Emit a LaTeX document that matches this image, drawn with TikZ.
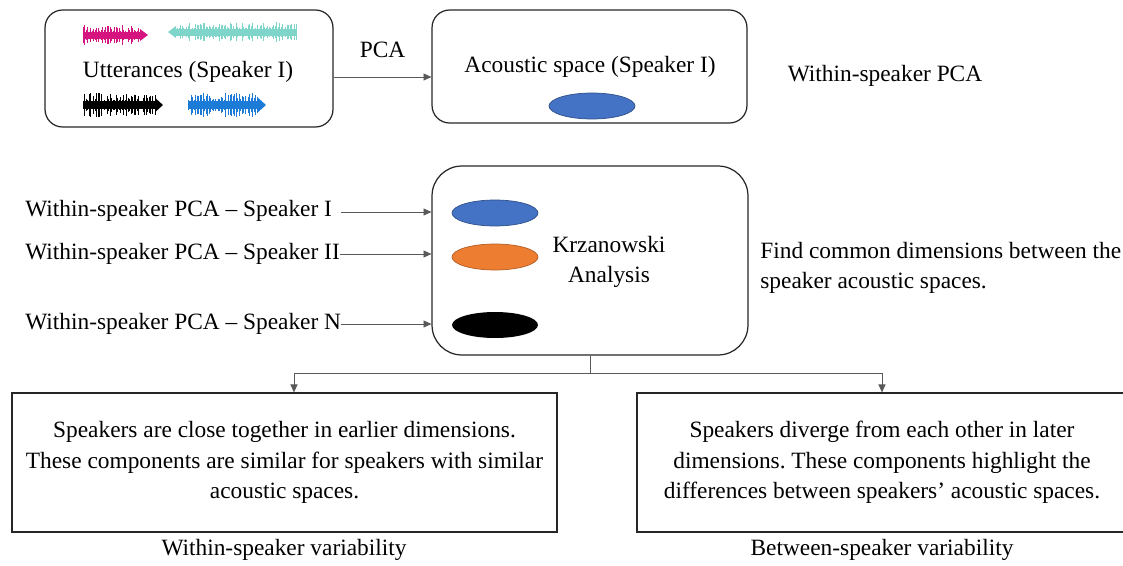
\documentclass[tikz,border=0pt]{standalone}
\usepackage{fontspec}
\setmainfont{Liberation Serif}
\usetikzlibrary{arrows.meta,shapes.geometric}
\frenchspacing
\definecolor{wavepink}{HTML}{D5147F}
\definecolor{waveteal}{HTML}{80D5CB}
\definecolor{waveblue}{HTML}{1B7BD6}
\definecolor{ellblue}{HTML}{4472C4}
\definecolor{ellorange}{HTML}{ED7D31}
% one sound wave: start x, centre y, body length, amplitude, colour, tip side (1 right, -1 left)
\newcommand{\soundwave}[6]{%
  \foreach \k in {0,1.5,...,#3} {
    \pgfmathsetmacro\amp{#4*(0.3+0.7*rnd)}
    \draw[#5, line width=0.55pt] (#1+\k,#2-\amp) -- (#1+\k,#2+\amp);
  }
  \fill[#5] (#1,#2-0.35*#4) rectangle (#1+#3,#2+0.35*#4);
  \ifnum#6=1
    \fill[#5] (#1+#3,#2-0.6*#4) -- (#1+#3+8,#2) -- (#1+#3,#2+0.6*#4) -- cycle;
  \else
    \fill[#5] (#1,#2-0.6*#4) -- (#1-8,#2) -- (#1,#2+0.6*#4) -- cycle;
  \fi}
\tikzset{
  txt/.style={font=\fontsize{13.3}{16.8}\selectfont, inner sep=0pt},
  panel/.style={draw=black!85, line width=0.7pt, rounded corners=10pt, fill=white},
  bigpanel/.style={panel, rounded corners=17pt},
  result/.style={draw=black!85, line width=0.7pt, fill=white, inner sep=0pt, align=center,
    font=\fontsize{13.3}{17.3}\selectfont},
  blob/.style={ellipse, minimum width=1.72cm, minimum height=0.52cm, inner sep=0pt},
  link/.style={draw=black!65, line width=0.5pt},
  arr/.style={link, -{Triangle[length=4.5pt,width=4pt]}},
}
\begin{document}
\begin{tikzpicture}[x=0.02cm, y=-0.02cm]
  \useasboundingbox (0,0) rectangle (1123,565);
  \clip (0,0) rectangle (1123,565);
  \pgfmathsetseed{11}

  % top row
  \node[panel, minimum width=5.76cm, minimum height=2.34cm] (utter) at (189,68.5) {};
  \soundwave{83}{35}{57}{10}{wavepink}{1}
  \soundwave{176}{32}{120}{10}{waveteal}{-1}
  \soundwave{83}{105}{72}{12}{black}{1}
  \soundwave{188}{105}{70}{12}{waveblue}{1}
  \node[txt] (uttertext) at (188,72) {Utterances (Speaker I)};

  \node[panel, minimum width=6.3cm, minimum height=2.26cm] (acoustic) at (589.5,66.5) {};
  \node[txt] (acoustictext) at (590,67) {Acoustic space (Speaker I)};
  \node[blob, fill=ellblue, draw=ellblue!70!black] (acblob) at (592,106) {};
  \draw[arr] ([yshift=-0.17cm]utter.east) -- ([yshift=-0.17cm]utter.east -| acoustic.west)
    node[txt, pos=0.5, yshift=0.54cm] (pcalabel) {PCA};
  \node[txt] (withinpca) at (885,76) {Within-speaker PCA};

  % middle row
  \node[bigpanel, minimum width=6.32cm, minimum height=3.78cm] (krz) at (590,260.5) {};
  \node[blob, fill=ellblue, draw=ellblue!70!black] (blobI) at (495,213) {};
  \node[blob, fill=ellorange, draw=ellorange!75!black] (blobII) at (495,257) {};
  \node[blob, fill=black] (blobN) at (495,325) {};
  \node[txt, align=center] (krztext) at (609,262) {Krzanowski\\Analysis};

  \node[txt, anchor=west] (spkI) at (25,211) {Within-speaker PCA -- Speaker I};
  \node[txt, anchor=west] (spkII) at (25,254) {Within-speaker PCA -- Speaker II};
  \node[txt, anchor=west] (spkN) at (25,324) {Within-speaker PCA -- Speaker N};
  \draw[arr] ([xshift=5pt,yshift=-0.02cm]spkI.east) -- ([yshift=-0.02cm]spkI.east -| krz.west);
  \draw[arr] (spkII.east) -- (spkII.east -| krz.west);
  \draw[arr] (spkN.east) -- (spkN.east -| krz.west);

  \node[txt, anchor=west, align=left] (findtext) at (760,268)
    {Find common dimensions between the\\speaker acoustic spaces.};

  % bottom row
  \node[result, minimum width=10.9cm, minimum height=2.78cm] (within) at (284.5,462.5)
    {Speakers are close together in earlier dimensions.\\These components are similar for speakers with similar\\acoustic spaces.};
  \node[result, minimum width=9.8cm, minimum height=2.78cm] (between) at (882,462.5)
    {Speakers diverge from each other in later\\dimensions. These components highlight the\\differences between speakers’ acoustic spaces.};
  \node[txt] (withinlabel) at (284,550) {Within-speaker variability};
  \node[txt] (betweenlabel) at (882,550) {Between-speaker variability};

  \coordinate (split) at (590,373);
  \draw[link] (krz.south) -- (split);
  \draw[arr] (split) -| ([xshift=0.19cm]within.north);
  \draw[arr] (split) -| (between.north);
\end{tikzpicture}
\end{document}
